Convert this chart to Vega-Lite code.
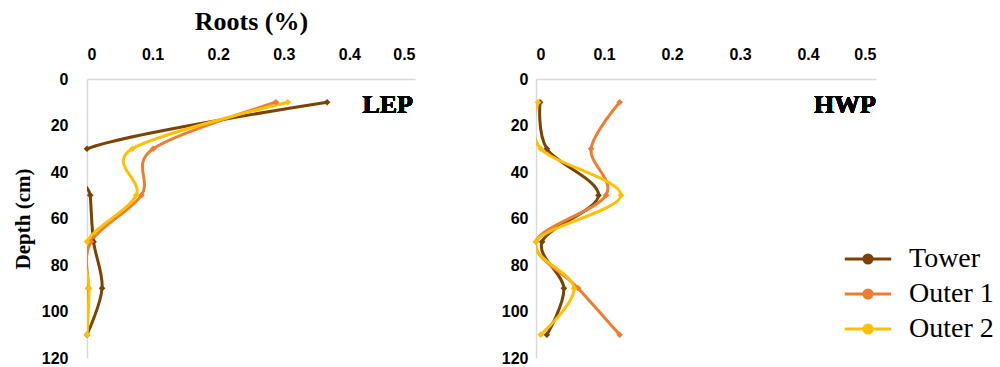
{
  "$schema": "https://vega.github.io/schema/vega-lite/v6.json",
  "background": "white",
  "padding": {"left": 12, "top": 8, "right": 5, "bottom": 5},
  "config": {
    "view": {"stroke": null},
    "axis": {
      "domainColor": "#d9d9d9",
      "domainWidth": 1.5,
      "ticks": false,
      "grid": false,
      "labelFont": "Liberation Sans",
      "labelFontWeight": "bold",
      "labelFontSize": 16,
      "labelColor": "#000000",
      "titleFont": "Liberation Serif",
      "titleFontWeight": "bold",
      "titleColor": "#000000"
    }
  },
  "datasets": {
    "roots": [
      {"site": "LEP", "series": "Tower", "depth": 10, "roots": 0.366},
      {"site": "LEP", "series": "Tower", "depth": 30, "roots": 0.0},
      {"site": "LEP", "series": "Tower", "depth": 50, "roots": 0.005},
      {"site": "LEP", "series": "Tower", "depth": 70, "roots": 0.01},
      {"site": "LEP", "series": "Tower", "depth": 90, "roots": 0.023},
      {"site": "LEP", "series": "Tower", "depth": 110, "roots": 0.0},
      {"site": "LEP", "series": "Outer 1", "depth": 10, "roots": 0.288},
      {"site": "LEP", "series": "Outer 1", "depth": 30, "roots": 0.101},
      {"site": "LEP", "series": "Outer 1", "depth": 50, "roots": 0.083},
      {"site": "LEP", "series": "Outer 1", "depth": 70, "roots": 0.006},
      {"site": "LEP", "series": "Outer 1", "depth": 90, "roots": 0.002},
      {"site": "LEP", "series": "Outer 1", "depth": 110, "roots": 0.0},
      {"site": "LEP", "series": "Outer 2", "depth": 10, "roots": 0.306},
      {"site": "LEP", "series": "Outer 2", "depth": 30, "roots": 0.069},
      {"site": "LEP", "series": "Outer 2", "depth": 50, "roots": 0.075},
      {"site": "LEP", "series": "Outer 2", "depth": 70, "roots": 0.0},
      {"site": "LEP", "series": "Outer 2", "depth": 90, "roots": 0.003},
      {"site": "LEP", "series": "Outer 2", "depth": 110, "roots": 0.0},
      {"site": "HWP", "series": "Tower", "depth": 10, "roots": 0.006},
      {"site": "HWP", "series": "Tower", "depth": 30, "roots": 0.016},
      {"site": "HWP", "series": "Tower", "depth": 50, "roots": 0.092},
      {"site": "HWP", "series": "Tower", "depth": 70, "roots": 0.009},
      {"site": "HWP", "series": "Tower", "depth": 90, "roots": 0.041},
      {"site": "HWP", "series": "Tower", "depth": 110, "roots": 0.016},
      {"site": "HWP", "series": "Outer 1", "depth": 10, "roots": 0.123},
      {"site": "HWP", "series": "Outer 1", "depth": 30, "roots": 0.081},
      {"site": "HWP", "series": "Outer 1", "depth": 50, "roots": 0.103},
      {"site": "HWP", "series": "Outer 1", "depth": 70, "roots": 0.0},
      {"site": "HWP", "series": "Outer 1", "depth": 90, "roots": 0.062},
      {"site": "HWP", "series": "Outer 1", "depth": 110, "roots": 0.123},
      {"site": "HWP", "series": "Outer 2", "depth": 10, "roots": 0.003},
      {"site": "HWP", "series": "Outer 2", "depth": 30, "roots": 0.007},
      {"site": "HWP", "series": "Outer 2", "depth": 50, "roots": 0.125},
      {"site": "HWP", "series": "Outer 2", "depth": 70, "roots": 0.0},
      {"site": "HWP", "series": "Outer 2", "depth": 90, "roots": 0.056},
      {"site": "HWP", "series": "Outer 2", "depth": 110, "roots": 0.007}
    ]
  },
  "spacing": 86,
  "hconcat": [
    {
      "width": 328,
      "height": 279,
      "data": {"name": "roots"},
      "transform": [{"filter": "datum.site === 'LEP'"}],
      "layer": [
        {
          "mark": {"type": "line", "interpolate": "cardinal", "strokeWidth": 3, "clip": true},
          "encoding": {
            "x": {"field": "roots", "type": "quantitative", "scale": {"domain": [0, 0.5], "nice": false},
              "axis": {"orient": "top", "values": [0, 0.1, 0.2, 0.3, 0.4, 0.5], "format": "~g", "labelPadding": 17, "title": "Roots (%)", "titleFontSize": 26, "titlePadding": 12}},
            "y": {"field": "depth", "type": "quantitative", "scale": {"domain": [0, 120], "reverse": true, "nice": false},
              "axis": {"values": [0, 20, 40, 60, 80, 100, 120], "labelPadding": 19, "title": "Depth (cm)", "titleFontSize": 21, "titlePadding": 8}},
            "order": {"field": "depth", "type": "quantitative"},
            "color": {"field": "series", "type": "nominal",
              "scale": {"domain": ["Tower", "Outer 1", "Outer 2"], "range": ["#7a4300", "#ed7d31", "#ffc000"]},
              "legend": {"orient": "none", "legendX": 765, "legendY": 164, "title": null,
                "symbolType": "M-1.6,0L1.6,0M-0.28,0a0.28,0.28 0 1,0 0.56,0a0.28,0.28 0 1,0 -0.56,0",
                "symbolSize": 841, "symbolStrokeWidth": 3,
                "labelFont": "Liberation Serif", "labelFontSize": 28, "labelColor": "#000000",
                "rowPadding": 5, "labelOffset": 25}}
          }
        },
        {
          "mark": {"type": "point", "shape": "diamond", "filled": true, "size": 45, "opacity": 1},
          "encoding": {
            "x": {"field": "roots", "type": "quantitative"},
            "y": {"field": "depth", "type": "quantitative"},
            "color": {"field": "series", "type": "nominal", "legend": null}
          }
        },
        {
          "mark": {"type": "text", "text": "LEP", "font": "Liberation Serif", "fontWeight": "bold", "fontSize": 26, "align": "right", "baseline": "middle", "dx": -2},
          "encoding": {
            "x": {"datum": 0.5, "type": "quantitative"},
            "y": {"datum": 11, "type": "quantitative"}
          }
        }
      ]
    },
    {
      "width": 340,
      "height": 279,
      "data": {"name": "roots"},
      "transform": [{"filter": "datum.site === 'HWP'"}],
      "layer": [
        {
          "mark": {"type": "line", "interpolate": "cardinal", "strokeWidth": 3, "clip": true},
          "encoding": {
            "x": {"field": "roots", "type": "quantitative", "scale": {"domain": [0, 0.5], "nice": false},
              "axis": {"orient": "top", "values": [0, 0.1, 0.2, 0.3, 0.4, 0.5], "format": "~g", "labelPadding": 17, "title": null}},
            "y": {"field": "depth", "type": "quantitative", "scale": {"domain": [0, 120], "reverse": true, "nice": false},
              "axis": {"values": [0, 20, 40, 60, 80, 100, 120], "labelPadding": 8, "title": null}},
            "order": {"field": "depth", "type": "quantitative"},
            "color": {"field": "series", "type": "nominal"}
          }
        },
        {
          "mark": {"type": "point", "shape": "diamond", "filled": true, "size": 45, "opacity": 1},
          "encoding": {
            "x": {"field": "roots", "type": "quantitative"},
            "y": {"field": "depth", "type": "quantitative"},
            "color": {"field": "series", "type": "nominal", "legend": null}
          }
        },
        {
          "mark": {"type": "text", "text": "HWP", "font": "Liberation Serif", "fontWeight": "bold", "fontSize": 26, "align": "right", "baseline": "middle", "dx": 0},
          "encoding": {
            "x": {"datum": 0.5, "type": "quantitative"},
            "y": {"datum": 11, "type": "quantitative"}
          }
        }
      ]
    }
  ]
}
